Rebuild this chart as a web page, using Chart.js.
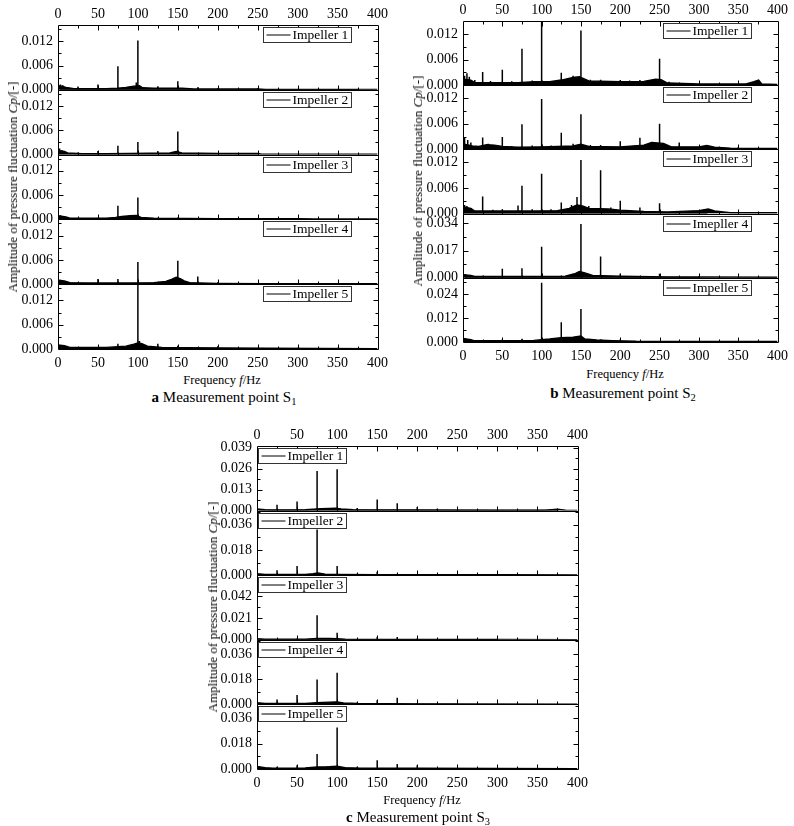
<!DOCTYPE html>
<html>
<head>
<meta charset="utf-8">
<script src="https://cdn.jsdelivr.net/npm/chart.js@4.4.1/dist/chart.umd.min.js"></script>
<style>
  body { margin: 0; background: #fff; width: 794px; height: 826px; position: relative; overflow: hidden; font-family: "Liberation Serif", "Times New Roman", "DejaVu Serif", serif; color: #000; }
  canvas { position: absolute; }
  .t { position: absolute; white-space: nowrap; transform: translate(-50%, -50%); }
  .yt { position: absolute; white-space: nowrap; font-size: 13px; color: #000; transform: translate(-50%, -50%) rotate(-90deg); }
  .xt { font-size: 12.5px; }
  .cap { font-size: 15px; }
  sub { font-size: 70%; vertical-align: -0.25em; }
</style>
</head>
<body>
<canvas id="chartA" width="394" height="372" style="left:0;top:0"></canvas>
<canvas id="chartB" width="394" height="366" style="left:400px;top:0"></canvas>
<canvas id="chartC" width="394" height="380" style="left:200px;top:420px"></canvas>

<div class="yt" style="left:13px;top:187px">Amplitude of pressure fluctuation <i>Cp</i>/[-]</div>
<div class="t xt" style="left:222px;top:380px">Frequency <i>f</i>/Hz</div>
<div class="t cap" style="left:224px;top:398px"><b>a</b> Measurement point S<sub>1</sub></div>

<div class="yt" style="left:418px;top:181px">Amplitude of pressure fluctuation <i>Cp</i>/[-]</div>
<div class="t xt" style="left:625px;top:374px">Frequency <i>f</i>/Hz</div>
<div class="t cap" style="left:623px;top:394px"><b>b</b> Measurement point S<sub>2</sub></div>

<div class="yt" style="left:213px;top:607px">Amplitude of pressure fluctuation <i>Cp</i>/[-]</div>
<div class="t xt" style="left:422px;top:800px">Frequency <i>f</i>/Hz</div>
<div class="t cap" style="left:418px;top:818px"><b>c</b> Measurement point S<sub>3</sub></div>

<script>
// frequency axis (Hz)
const freqTicks = [0, 50, 100, 150, 200, 250, 300, 350, 400];

// ---- Measurement point S1 ----
const s1Labels = ["Impeller 1", "Impeller 2", "Impeller 3", "Impeller 4", "Impeller 5"];
const s1YTicks = [[0, 0.006, 0.012], [0, 0.006, 0.012], [0, 0.006, 0.012], [0, 0.006, 0.012], [0, 0.006, 0.012]];
const s1YMax = [0.016, 0.016, 0.016, 0.016, 0.016];

const s1Peaks1 = [[3, 0.0013], [6, 0.0011], [25, 0.0008], [50, 0.0013], [75, 0.0058], [98, 0.0018], [100, 0.0122], [125, 0.0009], [150, 0.0021], [175, 0.0006], [200, 0.0004], [250, 0.0004], [300, 0.0002], [325, 0.0002], [375, 0.0002]];
const s1Floor1 = [[0, 0.0010], [5, 0.0009], [10, 0.0006], [20, 0.0003], [40, 0.0003], [60, 0.0003], [75, 0.0004], [85, 0.0006], [95, 0.0009], [102, 0.0010], [106, 0.0005], [120, 0.0004], [140, 0.0004], [155, 0.0004], [170, 0.0002], [250, 0.0002], [260, 0.0001], [400, 0.0001]];
const s1Peaks2 = [[2, 0.0015], [5, 0.0011], [25, 0.0005], [50, 0.0009], [75, 0.0022], [100, 0.0031], [125, 0.0009], [150, 0.0057], [175, 0.0004], [250, 0.0003]];
const s1Floor2 = [[0, 0.0010], [8, 0.0008], [12, 0.0004], [30, 0.0002], [60, 0.0002], [90, 0.0003], [140, 0.0004], [148, 0.0008], [155, 0.0004], [200, 0.0003], [250, 0.0003], [255, 0.0001], [400, 0.0001]];
const s1Peaks3 = [[3, 0.0010], [25, 0.0003], [50, 0.0004], [75, 0.0034], [100, 0.0054], [125, 0.0004], [150, 0.0005], [175, 0.0003], [200, 0.0003], [300, 0.0002]];
const s1Floor3 = [[0, 0.0009], [10, 0.0006], [15, 0.0003], [60, 0.0003], [72, 0.0005], [80, 0.0007], [90, 0.0009], [98, 0.0010], [104, 0.0005], [120, 0.0003], [200, 0.0002], [300, 0.0002], [320, 0.0001], [400, 0.0001]];
const s1Peaks4 = [[3, 0.0011], [25, 0.0005], [50, 0.0013], [75, 0.0013], [100, 0.0055], [125, 0.0005], [150, 0.0058], [175, 0.0019], [200, 0.0005], [250, 0.0002]];
const s1Floor4 = [[0, 0.0010], [8, 0.0008], [15, 0.0004], [40, 0.0003], [90, 0.0003], [120, 0.0004], [135, 0.0007], [142, 0.0012], [148, 0.0017], [153, 0.0014], [158, 0.0008], [165, 0.0004], [200, 0.0002], [260, 0.0001], [400, 0.0001]];
const s1Peaks5 = [[3, 0.0010], [25, 0.0004], [50, 0.0005], [75, 0.0013], [100, 0.0158], [102, 0.0020], [125, 0.0013], [150, 0.0008], [175, 0.0005], [200, 0.0007], [250, 0.0003], [300, 0.0003], [350, 0.0003]];
const s1Floor5 = [[0, 0.0010], [8, 0.0008], [15, 0.0004], [60, 0.0004], [85, 0.0007], [95, 0.0012], [100, 0.0015], [105, 0.0013], [112, 0.0007], [130, 0.0004], [160, 0.0003], [260, 0.0002], [400, 0.0001]];

// ---- Measurement point S2 ----
const s2Labels = ["Impeller 1", "Impeller 2", "Impeller 3", "Imepller 4", "Impeller 5"];
const s2YTicks = [[0, 0.006, 0.012], [0, 0.006, 0.012], [0, 0.006, 0.012], [0, 0.017, 0.034], [0, 0.012, 0.024]];
const s2YMax = [0.015, 0.015, 0.015, 0.040, 0.032];

const s2Peaks1 = [[2, 0.0022], [5, 0.0028], [8, 0.0020], [15, 0.0012], [25, 0.0031], [35, 0.0010], [50, 0.0036], [62, 0.0009], [75, 0.0085], [88, 0.0011], [100, 0.0149], [112, 0.0010], [125, 0.0029], [135, 0.0016], [140, 0.0022], [150, 0.0128], [162, 0.0013], [175, 0.0013], [188, 0.0009], [200, 0.0012], [212, 0.0011], [225, 0.0012], [235, 0.0010], [242, 0.0013], [250, 0.0062], [262, 0.0008], [275, 0.0005], [375, 0.0012]];
const s2Floor1 = [[0, 0.0014], [10, 0.0012], [15, 0.0006], [40, 0.0006], [70, 0.0006], [90, 0.0008], [110, 0.0008], [125, 0.0012], [140, 0.0018], [148, 0.0020], [160, 0.0010], [200, 0.0008], [230, 0.0009], [245, 0.0014], [252, 0.0013], [260, 0.0005], [300, 0.0003], [330, 0.0003], [360, 0.0003], [370, 0.0008], [376, 0.0012], [380, 0.0003], [400, 0.0002]];
const s2Peaks2 = [[2, 0.0027], [6, 0.0022], [10, 0.0016], [25, 0.0028], [32, 0.0013], [50, 0.0029], [62, 0.0008], [75, 0.0059], [88, 0.0009], [100, 0.0118], [112, 0.0009], [125, 0.0039], [140, 0.0013], [150, 0.0082], [162, 0.0010], [175, 0.0010], [200, 0.0019], [225, 0.0027], [240, 0.0017], [250, 0.0060], [275, 0.0016], [350, 0.0005]];
const s2Floor2 = [[0, 0.0013], [12, 0.0008], [20, 0.0007], [30, 0.0011], [40, 0.0010], [50, 0.0007], [70, 0.0005], [100, 0.0006], [140, 0.0008], [150, 0.0012], [160, 0.0007], [200, 0.0006], [230, 0.0010], [240, 0.0016], [255, 0.0014], [265, 0.0006], [300, 0.0006], [310, 0.0009], [320, 0.0005], [340, 0.0003], [400, 0.0002]];
const s2Peaks3 = [[2, 0.0020], [5, 0.0018], [10, 0.0013], [25, 0.0040], [38, 0.0009], [50, 0.0010], [70, 0.0019], [75, 0.0065], [88, 0.0010], [100, 0.0093], [112, 0.0010], [125, 0.0026], [138, 0.0020], [145, 0.0039], [150, 0.0125], [160, 0.0018], [175, 0.0101], [188, 0.0014], [200, 0.0030], [225, 0.0014], [250, 0.0024], [310, 0.0010]];
const s2Floor3 = [[0, 0.0016], [10, 0.0012], [15, 0.0006], [60, 0.0006], [90, 0.0006], [120, 0.0007], [135, 0.0012], [145, 0.0020], [152, 0.0018], [160, 0.0012], [185, 0.0011], [200, 0.0008], [230, 0.0005], [260, 0.0004], [300, 0.0007], [312, 0.0011], [320, 0.0006], [340, 0.0002], [400, 0.0002]];
const s2Peaks4 = [[3, 0.0022], [25, 0.0012], [50, 0.0056], [75, 0.0059], [100, 0.0193], [125, 0.0012], [150, 0.0335], [175, 0.0133], [200, 0.0025], [250, 0.0026], [300, 0.0010]];
const s2Floor4 = [[0, 0.0020], [10, 0.0015], [15, 0.0008], [90, 0.0008], [130, 0.0010], [142, 0.0025], [148, 0.0040], [155, 0.0030], [165, 0.0015], [200, 0.0010], [260, 0.0006], [300, 0.0005], [400, 0.0003]];
const s2Peaks5 = [[3, 0.0020], [8, 0.0015], [50, 0.0013], [75, 0.0016], [100, 0.0295], [125, 0.0098], [150, 0.0165], [175, 0.0012], [200, 0.0013], [275, 0.0004]];
const s2Floor5 = [[0, 0.0018], [10, 0.0012], [15, 0.0006], [60, 0.0007], [90, 0.0008], [110, 0.0015], [125, 0.0022], [140, 0.0024], [150, 0.0030], [155, 0.0015], [170, 0.0010], [190, 0.0007], [220, 0.0004], [400, 0.0003]];

// ---- Measurement point S3 ----
const s3Labels = ["Impeller 1", "Impeller 2", "Impeller 3", "Impeller 4", "Impeller 5"];
const s3YTicks = [[0, 0.013, 0.026, 0.039], [0, 0.018, 0.036], [0, 0.021, 0.042], [0, 0.018, 0.036], [0, 0.018, 0.036]];
const s3YMax = [0.040, 0.046, 0.062, 0.046, 0.046];

const s3Peaks1 = [[3, 0.0008], [25, 0.0036], [50, 0.0056], [75, 0.0245], [100, 0.0256], [125, 0.0016], [150, 0.0068], [175, 0.0046], [200, 0.0022], [225, 0.0012], [250, 0.0005], [375, 0.0008]];
const s3Floor1 = [[0, 0.0010], [10, 0.0006], [20, 0.0004], [60, 0.0005], [80, 0.0012], [90, 0.0014], [98, 0.0015], [105, 0.0010], [120, 0.0005], [200, 0.0004], [300, 0.0002], [360, 0.0003], [375, 0.0008], [385, 0.0002], [400, 0.0001]];
const s3Peaks2 = [[3, 0.0008], [25, 0.0036], [50, 0.0066], [75, 0.0325], [100, 0.0066], [125, 0.0010], [150, 0.0025], [175, 0.0010], [200, 0.0006], [325, 0.0004]];
const s3Floor2 = [[0, 0.0010], [10, 0.0005], [60, 0.0005], [70, 0.0010], [76, 0.0016], [85, 0.0008], [100, 0.0006], [150, 0.0004], [250, 0.0004], [300, 0.0003], [400, 0.0002]];
const s3Peaks3 = [[3, 0.0008], [25, 0.0008], [50, 0.0012], [75, 0.0235], [100, 0.0068], [125, 0.0008], [150, 0.0026], [175, 0.0027], [200, 0.0012], [300, 0.0004]];
const s3Floor3 = [[0, 0.0010], [10, 0.0006], [60, 0.0006], [75, 0.0014], [90, 0.0012], [100, 0.0010], [110, 0.0006], [200, 0.0004], [300, 0.0004], [400, 0.0002]];
const s3Peaks4 = [[3, 0.0010], [25, 0.0035], [50, 0.0067], [75, 0.0177], [100, 0.0226], [125, 0.0013], [150, 0.0030], [175, 0.0047], [200, 0.0010], [250, 0.0005]];
const s3Floor4 = [[0, 0.0012], [10, 0.0006], [60, 0.0006], [75, 0.0013], [90, 0.0016], [100, 0.0018], [108, 0.0010], [125, 0.0007], [200, 0.0004], [400, 0.0002]];
const s3Peaks5 = [[3, 0.0018], [25, 0.0016], [50, 0.0026], [75, 0.0106], [88, 0.0020], [100, 0.0296], [125, 0.0016], [150, 0.0062], [175, 0.0036], [200, 0.0027], [250, 0.0006], [300, 0.0005]];
const s3Floor5 = [[0, 0.0018], [10, 0.0010], [20, 0.0006], [60, 0.0007], [75, 0.0014], [90, 0.0016], [100, 0.0020], [110, 0.0010], [130, 0.0006], [200, 0.0005], [400, 0.0002]];

const FONT = "'Liberation Serif', 'Times New Roman', 'DejaVu Serif', serif";

// each peak becomes a vertical stroke from zero
function spikes(peaks) {
  const pts = [];
  peaks.forEach(([f, a]) => {
    pts.push({ x: f, y: 0 }, { x: f, y: a }, { x: f, y: 0 });
  });
  return pts;
}

// frames, inward ticks and the per-layer legend boxes
const frameTicks = {
  id: "frameTicks",
  afterDatasetsDraw(chart, args, opts) {
    const ctx = chart.ctx;
    const area = chart.chartArea;
    const xs = chart.scales.x;
    const L = Math.round(area.left) + 0.5;
    const R = Math.round(area.right) + 0.5;
    ctx.save();
    ctx.strokeStyle = "#000";
    ctx.lineWidth = 1;

    opts.yIds.forEach((id, i) => {
      const s = chart.scales[id];
      const T = Math.round(s.top) + 0.5;
      const B = Math.round(s.bottom) + 0.5;
      ctx.beginPath();
      ctx.rect(L, T, R - L, B - T);

      // y ticks, left and right, pointing in
      const vals = s.ticks.map((t) => t.value);
      const half = (vals[1] - vals[0]) / 2;
      for (let k = 1; k * half < s.max; k++) {
        const y = Math.round(s.getPixelForValue(k * half)) + 0.5;
        const len = k % 2 === 0 ? 5 : 3;
        ctx.moveTo(L, y); ctx.lineTo(L + len, y);
        ctx.moveTo(R, y); ctx.lineTo(R - len, y);
      }
      // x ticks on the bottom of each layer, pointing up
      for (let f = 25; f < 400; f += 25) {
        const x = Math.round(xs.getPixelForValue(f)) + 0.5;
        const len = f % 50 === 0 ? 5 : 3;
        ctx.moveTo(x, B); ctx.lineTo(x, B - len);
        if (i === 0) { ctx.moveTo(x, T); ctx.lineTo(x, T + len); }
      }
      ctx.stroke();

      // legend box
      ctx.font = "13.5px " + FONT;
      const label = opts.labels[i];
      const tw = ctx.measureText(label).width;
      const w = Math.round(29 + tw + 3);
      const h = 15;
      const bx = opts.side === "right" ? Math.round(area.right - 27 - w) + 0.5 : L + 1;
      const by = T + 2;
      ctx.fillStyle = "#fff";
      ctx.fillRect(bx, by, w, h);
      ctx.strokeStyle = "#333";
      ctx.strokeRect(bx, by, w, h);
      ctx.strokeStyle = "#000";
      ctx.beginPath();
      ctx.moveTo(bx + 3, by + h / 2);
      ctx.lineTo(bx + 27, by + h / 2);
      ctx.stroke();
      ctx.fillStyle = "#000";
      ctx.textBaseline = "middle";
      ctx.textAlign = "left";
      ctx.fillText(label, bx + 29, by + h / 2 + 0.5);
    });
    ctx.restore();
  },
};

function xScale(pos) {
  return {
    type: "linear",
    position: pos,
    min: 0,
    max: 400,
    grid: { display: false, drawTicks: false },
    border: { display: false },
    ticks: {
      autoSkip: false,
      maxRotation: 0,
      padding: pos === "top" ? 2 : 6,
      color: "#000",
      font: { family: FONT, size: 14 },
    },
    afterBuildTicks: (s) => {
      s.ticks = freqTicks.map((v) => ({ value: v }));
    },
    afterFit: (s) => {
      s.height = pos === "top" ? 17 : 20;
    },
  };
}

function makePanel(canvasId, peaks, floors, yTicks, yMax, labels, side, pad) {
  const scales = { x: xScale("bottom"), x2: xScale("top") };
  const yIds = [];
  const datasets = [];

  peaks.forEach((p, i) => {
    const id = "y" + (i + 1);
    yIds.push(id);
    scales[id] = {
      type: "linear",
      position: "left",
      stack: "amp",
      stackWeight: 1,
      weight: peaks.length - i,
      min: 0,
      max: yMax[i],
      offset: false,
      grid: { display: false, drawTicks: false },
      border: { display: false },
      ticks: {
        autoSkip: false,
        padding: 5,
        color: "#000",
        font: { family: FONT, size: 14 },
        callback: (v) => Number(v).toFixed(3),
      },
      afterBuildTicks: (s) => {
        s.ticks = yTicks[i].map((v) => ({ value: v }));
      },
      afterFit: (s) => {
        s.width = 40;
      },
    };
    datasets.push({
      data: floors[i].map(([x, y]) => ({ x, y })),
      xAxisID: "x",
      yAxisID: id,
      borderColor: "#000",
      backgroundColor: "#000",
      borderWidth: 1.4,
      fill: "origin",
      pointRadius: 0,
      tension: 0,
    });
    datasets.push({
      data: spikes(p),
      xAxisID: "x",
      yAxisID: id,
      borderColor: "#000",
      borderWidth: 1.5,
      fill: false,
      pointRadius: 0,
      tension: 0,
    });
  });

  new Chart(document.getElementById(canvasId), {
    type: "line",
    data: { datasets },
    options: {
      responsive: false,
      animation: false,
      events: [],
      layout: { padding: pad },
      scales,
      plugins: {
        legend: { display: false },
        tooltip: { enabled: false },
        frameTicks: { yIds, labels, side },
      },
    },
    plugins: [frameTicks],
  });
}

function drawAll() {
  makePanel("chartA",
    [s1Peaks1, s1Peaks2, s1Peaks3, s1Peaks4, s1Peaks5],
    [s1Floor1, s1Floor2, s1Floor3, s1Floor4, s1Floor5],
    s1YTicks, s1YMax, s1Labels, "right",
    { left: 18, right: 16, top: 8, bottom: 3 });

  makePanel("chartB",
    [s2Peaks1, s2Peaks2, s2Peaks3, s2Peaks4, s2Peaks5],
    [s2Floor1, s2Floor2, s2Floor3, s2Floor4, s2Floor5],
    s2YTicks, s2YMax, s2Labels, "right",
    { left: 23, right: 15, top: 4, bottom: 4 });

  makePanel("chartC",
    [s3Peaks1, s3Peaks2, s3Peaks3, s3Peaks4, s3Peaks5],
    [s3Floor1, s3Floor2, s3Floor3, s3Floor4, s3Floor5],
    s3YTicks, s3YMax, s3Labels, "left",
    { left: 17, right: 15, top: 9, bottom: 11 });
}

// make sure the serif face is ready before the canvases draw text
if (document.fonts && document.fonts.load) {
  Promise.all([
    document.fonts.load("14px 'Liberation Serif'"),
    document.fonts.load("italic 14px 'Liberation Serif'"),
    document.fonts.load("bold 14px 'Liberation Serif'"),
  ]).then(drawAll, drawAll);
} else {
  drawAll();
}
</script>
</body>
</html>
